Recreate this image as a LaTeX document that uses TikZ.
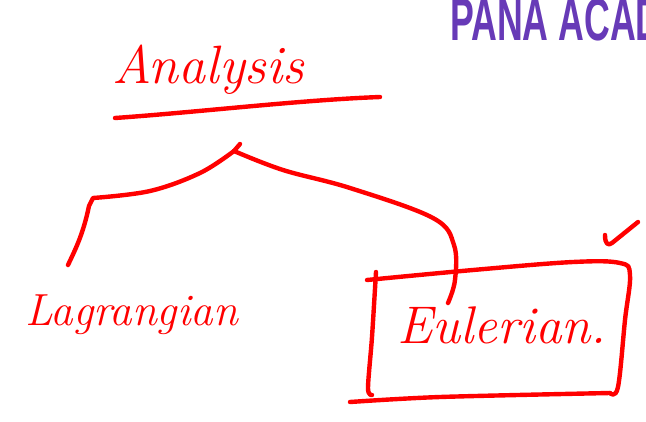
\documentclass[tikz,border=0pt]{standalone}
\usepackage{fontspec}
\newfontfamily\logofont{Liberation Sans}
\usetikzlibrary{positioning}
\definecolor{inkred}{RGB}{255,0,0}
\definecolor{panapurple}{RGB}{103,58,183}

\tikzset{
  ink/.style={inkred, line width=4.4pt, line cap=round, line join=round},
  hand/.style={inkred, inner sep=0pt, anchor=base west}
}

\begin{document}
\begin{tikzpicture}[x=1pt, y=-1pt]
  \useasboundingbox (0,0) rectangle (646,421);

  % ========== LOGO ==========
  \begin{scope}
  \clip (0,0) rectangle (646,421);
  \node[panapurple, anchor=base west, inner sep=0pt, xscale=0.595,
        font=\logofont\bfseries\fontsize{60}{60}\selectfont] (logo) at (450,40) {PANA ACAD};
  \end{scope}

  % ========== ROOT ==========
  \node[hand, font=\itshape\fontsize{54}{54}\selectfont] (analysis) at (112,83) {Analysis};
  % underline
  \draw[ink] (115,118) .. controls (200,112) and (300,100) .. (380,97);

  % ========== BRANCHES ==========
  \coordinate (top) at (240,144);
  \coordinate (fork) at (234,151);
  \draw[ink] (top) -- (fork);
  % left branch
  \draw[ink] plot[smooth, tension=0.6] coordinates
    {(fork) (200,173) (150,191) (93,198)}
    -- (89,206) .. controls (83,235) and (75,250) .. (68,265);
  % right branch
  \draw[ink] plot[smooth, tension=0.6] coordinates
    {(fork) (283,170) (350,188) (433,218) (454,245) (455,280) (448,303)};

  % ========== LEAVES ==========
  \node[hand, font=\itshape\fontsize{45}{45}\selectfont] (lagrange) at (25,325) {Lagrangian};
  \node[hand, font=\itshape\fontsize{53}{53}\selectfont] (euler) at (397,343) {Eulerian.};

  % box round Eulerian
  \draw[ink] plot[smooth, tension=0.6] coordinates
    {(367,280) (473,270) (573,262) (620,263) (630,275) (625,320) (618,387) (610,393)};
  \draw[ink] plot[smooth, tension=0.5] coordinates
    {(376,272) (372,337) (368,388) (372,395)};
  \draw[ink] plot[smooth, tension=0.5] coordinates
    {(350,402) (440,397) (610,393)};

  % check mark
  \draw[ink] (605,235) .. controls (605,244) and (608,246) .. (612,243) -- (638,222);

\end{tikzpicture}
\end{document}
